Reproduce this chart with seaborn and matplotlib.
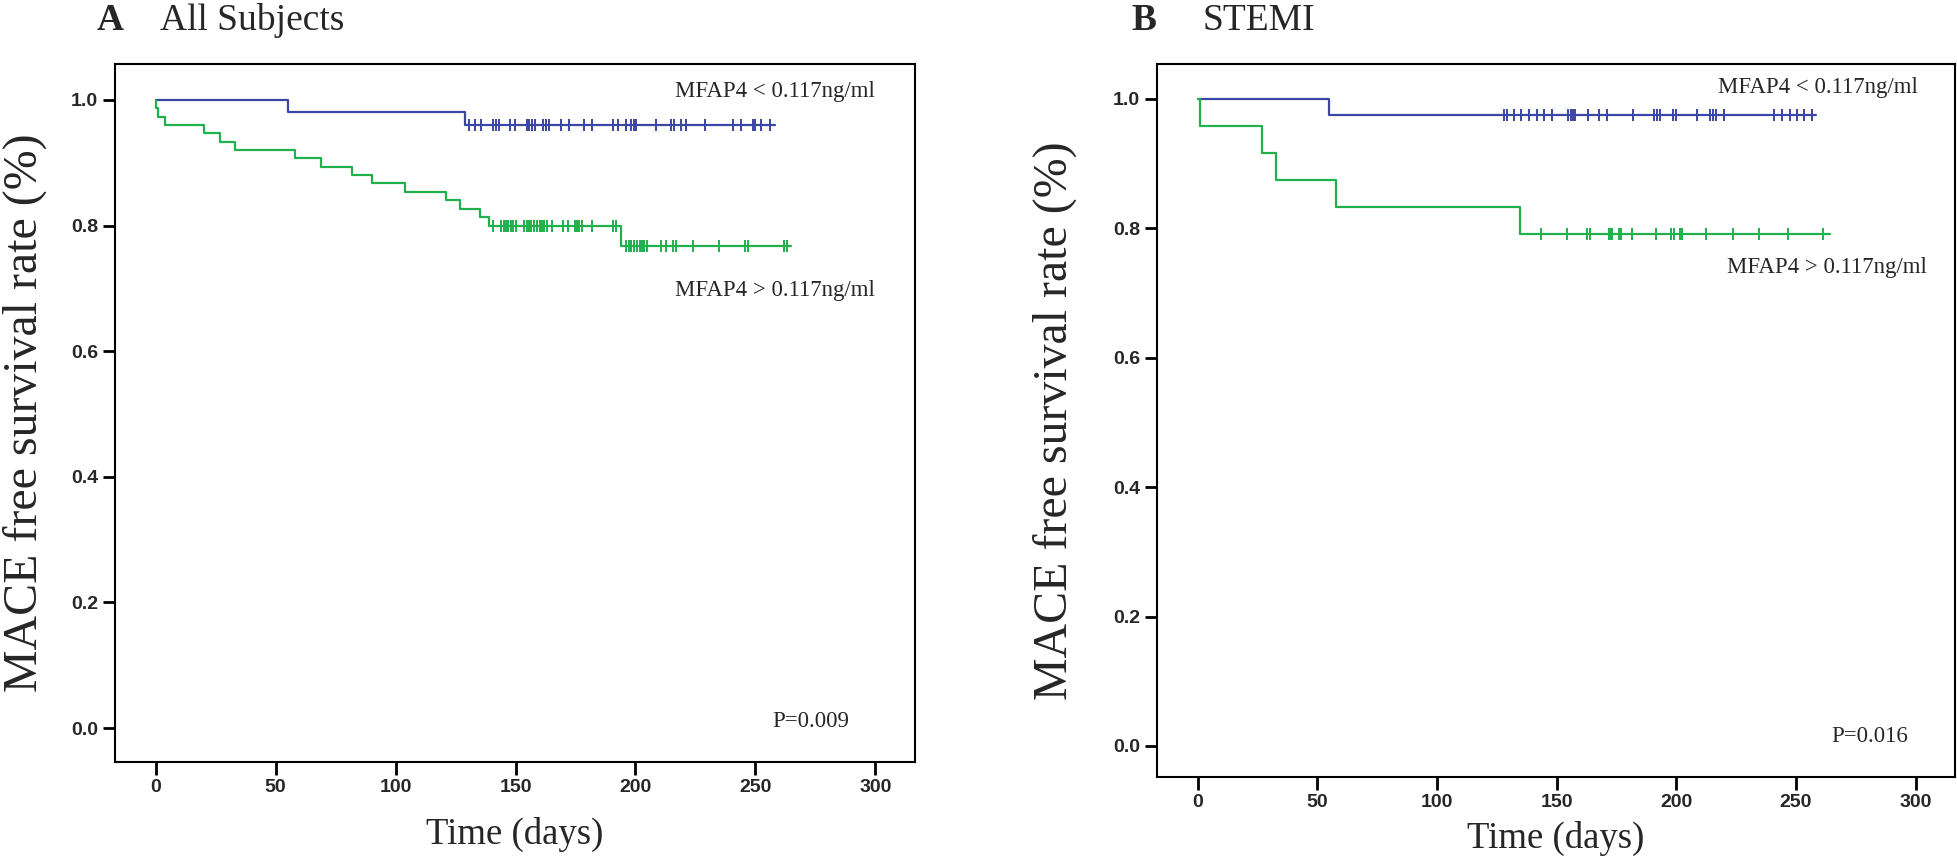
import numpy as np
import pandas as pd
import matplotlib
matplotlib.use('Agg')
import matplotlib.pyplot as plt
import seaborn as sns

# ---- values ----
# Panel A: all subjects
a_low_time = [0, 55, 129, 258]
a_low_surv = [1.0, 0.980, 0.960, 0.960]
a_low_cens = [130.6, 132.9, 135.7, 140.6, 142, 143.3, 147.5, 149.6, 154.7, 155.8,
              156.9, 158, 161.6, 162.8, 163.9, 169, 172.2, 178.7, 181.9, 190.5,
              192.6, 196, 198.2, 199.3, 200.3, 208.6, 214.9, 216, 219, 221,
              228.8, 240.5, 244, 248.9, 249.9, 252.4, 256.1]

a_high_time = [0, 0.3, 1, 4, 20, 27, 33, 58, 69, 82, 90, 104, 121, 127, 135, 139, 194, 265]
a_high_surv = [1.0, 0.987, 0.973, 0.960, 0.947, 0.933, 0.920, 0.907, 0.893, 0.880,
               0.867, 0.853, 0.840, 0.827, 0.813, 0.800, 0.767, 0.767]
a_high_cens = [140.6, 144, 145, 146, 147, 148, 149, 150, 153.7, 154.7, 155.7, 156.6,
               157.6, 159, 160, 161, 162, 163, 165, 169.7, 171.8, 174.6, 175.5,
               176.5, 177.5, 181.9, 190.5, 191.9, 196, 197.2, 198.3, 199.4, 200.6,
               201.7, 202.8, 203.7, 204.7, 210.7, 212.8, 215.6, 216.7, 223.9, 234.7,
               245.8, 246.8, 262, 263]

# Panel B: STEMI
b_low_time = [0, 54.8, 258.5]
b_low_surv = [1.0, 0.975, 0.975]
b_low_cens = [128.0, 129.2, 132.2, 135.3, 138.5, 141.7, 144.7, 148.2, 154.9, 155.9,
              156.9, 157.8, 163.1, 167.7, 171.2, 182.0, 190.6, 192.0, 193.4, 198.7,
              199.7, 208.7, 214.2, 215.4, 216.8, 220.1, 240.7, 244.2, 247.4, 250.4,
              253.5, 256.7]

b_high_time = [0, 0.8, 26.8, 32.8, 57.8, 134.7, 264.3]
b_high_surv = [1.0, 0.958, 0.917, 0.875, 0.833, 0.792, 0.792]
b_high_cens = [143.6, 154.5, 162.5, 163.9, 171.8, 172.6, 173.3, 176.0, 176.7, 181.6,
               191.7, 197.6, 199.0, 201.7, 202.4, 212.6, 223.7, 234.4, 246.5, 261.3]

x_ticks = [0, 50, 100, 150, 200, 250, 300]
y_ticks = [0.0, 0.2, 0.4, 0.6, 0.8, 1.0]

label_low = 'MFAP4 < 0.117ng/ml'
label_high = 'MFAP4 > 0.117ng/ml'

BLUE = '#3b45a3'
GREEN = '#20b04c'
SERIF = ['Liberation Serif', 'DejaVu Serif']
TICKFONT = ['Liberation Sans', 'DejaVu Sans']

sns.set_theme(style='ticks')
plt.rcParams['font.family'] = SERIF


def level_at(times, surv, t):
    # survival level of the step curve at the censoring time
    idx = np.searchsorted(times, t, side='right') - 1
    return np.asarray(surv)[idx]


def draw_panel(ax, curves, ylim, ylab_x, xlab_y):
    for t, s, c, col in curves:
        df = pd.DataFrame({'time': t, 'surv': s})
        sns.lineplot(data=df, x='time', y='surv', ax=ax, color=col, linewidth=1.6,
                     drawstyle='steps-post', sort=False, estimator=None, legend=False)
        ax.plot(c, level_at(t, s, c), linestyle='none', marker='|', markersize=8,
                markeredgewidth=1.4, color=col)

    ax.set_xlim(-17, 316.5)
    ax.set_ylim(*ylim)
    ax.set_xticks(x_ticks)
    ax.set_yticks(y_ticks)
    ax.set_xticklabels([str(v) for v in x_ticks])
    ax.set_yticklabels([f'{v:.1f}' for v in y_ticks])
    for lab in ax.get_xticklabels() + ax.get_yticklabels():
        lab.set_fontfamily(TICKFONT)
        lab.set_fontweight('bold')
        lab.set_fontsize(14)
    ax.tick_params(length=9, width=2, color='black', pad=3)
    for sp in ax.spines.values():
        sp.set_visible(True)
        sp.set_color('black')
        sp.set_linewidth(1.5)

    ax.set_ylabel('MACE free survival rate (%)', fontsize=34.5, family=SERIF)
    ax.yaxis.set_label_coords(ylab_x, 0.5)
    ax.set_xlabel('Time (days)', fontsize=26.5, family=SERIF)
    ax.xaxis.set_label_coords(0.5, xlab_y)


fig = plt.figure(figsize=(19.58, 8.68), dpi=100)
ax_a = fig.add_axes([0.0587, 0.1221, 0.4086, 0.8041])
ax_b = fig.add_axes([0.5909, 0.1048, 0.4076, 0.8215])

draw_panel(ax_a, [(a_low_time, a_low_surv, a_low_cens, BLUE),
                  (a_high_time, a_high_surv, a_high_cens, GREEN)],
           (-0.054, 1.057), -0.085, -0.078)
draw_panel(ax_b, [(b_low_time, b_low_surv, b_low_cens, BLUE),
                  (b_high_time, b_high_surv, b_high_cens, GREEN)],
           (-0.048, 1.054), -0.1, -0.062)

# group labels and p values
ax_a.text(299.6, 1.013, label_low, ha='right', va='center', fontsize=16.5)
ax_a.text(299.6, 0.697, label_high, ha='right', va='center', fontsize=16.5)
ax_a.text(289, 0.011, 'P=0.009', ha='right', va='center', fontsize=16.5)
ax_b.text(301, 1.017, label_low, ha='right', va='center', fontsize=16.5)
ax_b.text(304.8, 0.740, label_high, ha='right', va='center', fontsize=16.5)
ax_b.text(297, 0.015, 'P=0.016', ha='right', va='center', fontsize=16.5)

# panel titles
fig.text(0.0495, 0.9654, 'A', fontsize=27, fontweight='bold', va='baseline')
fig.text(0.0817, 0.9654, 'All Subjects', fontsize=27, va='baseline')
fig.text(0.5781, 0.9654, 'B', fontsize=27, fontweight='bold', va='baseline')
fig.text(0.6139, 0.9654, 'STEMI', fontsize=27, va='baseline')

fig.savefig('out.png', dpi=100)
